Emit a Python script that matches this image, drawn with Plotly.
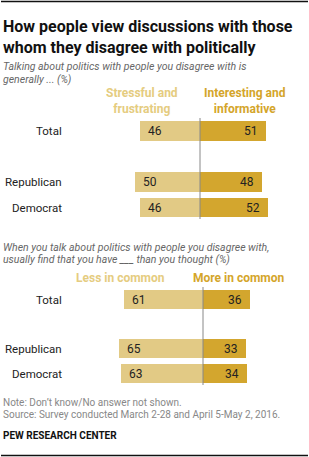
import plotly.graph_objects as go

# ---- data ----
groups = ["Total", "Republican", "Democrat"]
stressful = [46, 50, 46]
interesting = [51, 48, 52]
less_common = [61, 65, 63]
more_common = [36, 33, 34]

title_lines = ["How people view discussions with those", "whom they disagree with politically"]
sub1 = ["Talking about politics with people you disagree with is", "generally ... (%)"]
sub2 = ["When you talk about politics with people you disagree with,", "usually find that you have ___ than you thought (%)"]
hdr1 = ["Stressful and<br>frustrating", "Interesting and<br>informative"]
hdr2 = ["Less in common", "More in common"]
notes = ["Note: Don\u2019t know/No answer not shown.",
         "Source: Survey conducted March 2-28 and April 5-May 2, 2016."]
source_org = "PEW RESEARCH CENTER"

# ---- style ----
W, H = 309, 457
LIGHT = "#E2CA85"
DARK = "#D3A62E"
LIGHT_TXT = "#E5CC80"
DARK_TXT = "#D4A52A"
FONT = "Roboto"
row_pos = [0, 2, 3]  # row layout: gap after Total

def py(pix):
    return 1 - pix / H

def px(pix):
    return pix / W

fig = go.Figure()

panels = [
    dict(left=stressful, right=interesting, xa="x", ya="y", center=200, scale=1.3,
         top=110, bot=230, row0=131, unit=25.5, line=(118, 219)),
    dict(left=less_common, right=more_common, xa="x2", ya="y2", center=203, scale=1.3,
         top=285, bot=390, row0=299.5, unit=24.67, line=(287, 385)),
]

annotations = []
shapes = []
for i, p in enumerate(panels):
    fig.add_trace(go.Bar(y=row_pos, x=[-v for v in p["left"]], orientation="h",
                         marker=dict(color=LIGHT, line=dict(width=0)), width=0.78,
                         xaxis=p["xa"], yaxis=p["ya"], hoverinfo="skip", showlegend=False))
    fig.add_trace(go.Bar(y=row_pos, x=p["right"], orientation="h",
                         marker=dict(color=DARK, line=dict(width=0)), width=0.78,
                         xaxis=p["xa"], yaxis=p["ya"], hoverinfo="skip", showlegend=False))
    sfx = "" if i == 0 else "2"
    xr = [-p["center"] / p["scale"], (W - p["center"]) / p["scale"]]
    yr = [(p["bot"] - p["row0"]) / p["unit"], (p["top"] - p["row0"]) / p["unit"]]
    fig.layout["xaxis" + sfx] = dict(range=xr, domain=[0, 1], visible=False, fixedrange=True,
                                      anchor="y" + sfx)
    fig.layout["yaxis" + sfx] = dict(range=yr, domain=[py(p["bot"]), py(p["top"])],
                                      visible=False, fixedrange=True, anchor="x" + sfx)
    for g, yv, lv, rv in zip(groups, row_pos, p["left"], p["right"]):
        annotations.append(dict(x=px(64), xref="paper", y=yv, yref="y" + sfx,
                                text=g, xanchor="right", showarrow=False,
                                font=dict(size=11.5, color="#222", family=FONT)))
        annotations.append(dict(x=-lv, xref="x" + sfx, y=yv, yref="y" + sfx, text=str(lv),
                                xanchor="left", xshift=6, showarrow=False,
                                font=dict(size=12, color="#222", family=FONT)))
        annotations.append(dict(x=rv, xref="x" + sfx, y=yv, yref="y" + sfx, text=str(rv),
                                xanchor="right", xshift=-6, showarrow=False,
                                font=dict(size=12, color="#222", family=FONT)))
    shapes.append(dict(type="line", xref="x" + sfx, yref="paper", x0=0, x1=0,
                       y0=py(p["line"][0]), y1=py(p["line"][1]),
                       line=dict(color="#888", width=1)))

# headers
annotations.append(dict(x=px(142), y=py(101), xref="paper", yref="paper", text="<b>" + hdr1[0] + "</b>",
                        showarrow=False, xanchor="center", yanchor="middle", align="center",
                        font=dict(size=12, color=LIGHT_TXT, family=FONT)))
annotations.append(dict(x=px(245), y=py(101), xref="paper", yref="paper", text="<b>" + hdr1[1] + "</b>",
                        showarrow=False, xanchor="center", yanchor="middle", align="center",
                        font=dict(size=12, color=DARK_TXT, family=FONT)))
annotations.append(dict(x=px(120), y=py(278), xref="paper", yref="paper", text="<b>" + hdr2[0] + "</b>",
                        showarrow=False, xanchor="center", yanchor="middle",
                        font=dict(size=12, color=LIGHT_TXT, family=FONT)))
annotations.append(dict(x=px(238), y=py(278), xref="paper", yref="paper", text="<b>" + hdr2[1] + "</b>",
                        showarrow=False, xanchor="center", yanchor="middle",
                        font=dict(size=12, color=DARK_TXT, family=FONT)))

# title
for t, yy in zip(title_lines, [26, 47]):
    annotations.append(dict(x=px(1), y=py(yy), xref="paper", yref="paper", text="<b>" + t + "</b>",
                            showarrow=False, xanchor="left", yanchor="middle",
                            font=dict(size=16, color="#111", family=FONT)))
for t, yy in zip(sub1, [66, 79]):
    annotations.append(dict(x=px(1), y=py(yy), xref="paper", yref="paper", text="<i>" + t + "</i>",
                            showarrow=False, xanchor="left", yanchor="middle",
                            font=dict(size=10.5, color="#666", family=FONT)))
for t, yy in zip(sub2, [247, 259]):
    annotations.append(dict(x=px(1), y=py(yy), xref="paper", yref="paper", text="<i>" + t + "</i>",
                            showarrow=False, xanchor="left", yanchor="middle",
                            font=dict(size=10.5, color="#666", family=FONT)))
for t, yy in zip(notes, [402, 414]):
    annotations.append(dict(x=px(1), y=py(yy), xref="paper", yref="paper", text=t,
                            showarrow=False, xanchor="left", yanchor="middle",
                            font=dict(size=10, color="#888", family=FONT)))
annotations.append(dict(x=px(1), y=py(435), xref="paper", yref="paper", text="<b>" + source_org + "</b>",
                        showarrow=False, xanchor="left", yanchor="middle",
                        font=dict(size=10, color="#111", family=FONT)))

# top/bottom rules
for yy in [1.5, 455.5]:
    shapes.append(dict(type="line", xref="paper", yref="paper", x0=px(1), x1=px(308),
                       y0=py(yy), y1=py(yy), line=dict(color="#111", width=1.3)))

fig.update_layout(width=W, height=H, margin=dict(l=0, r=0, t=0, b=0),
                  paper_bgcolor="white", plot_bgcolor="white", barmode="relative",
                  bargap=0, annotations=annotations, shapes=shapes, showlegend=False)

fig.write_html("out.html", config={"displayModeBar": False})
